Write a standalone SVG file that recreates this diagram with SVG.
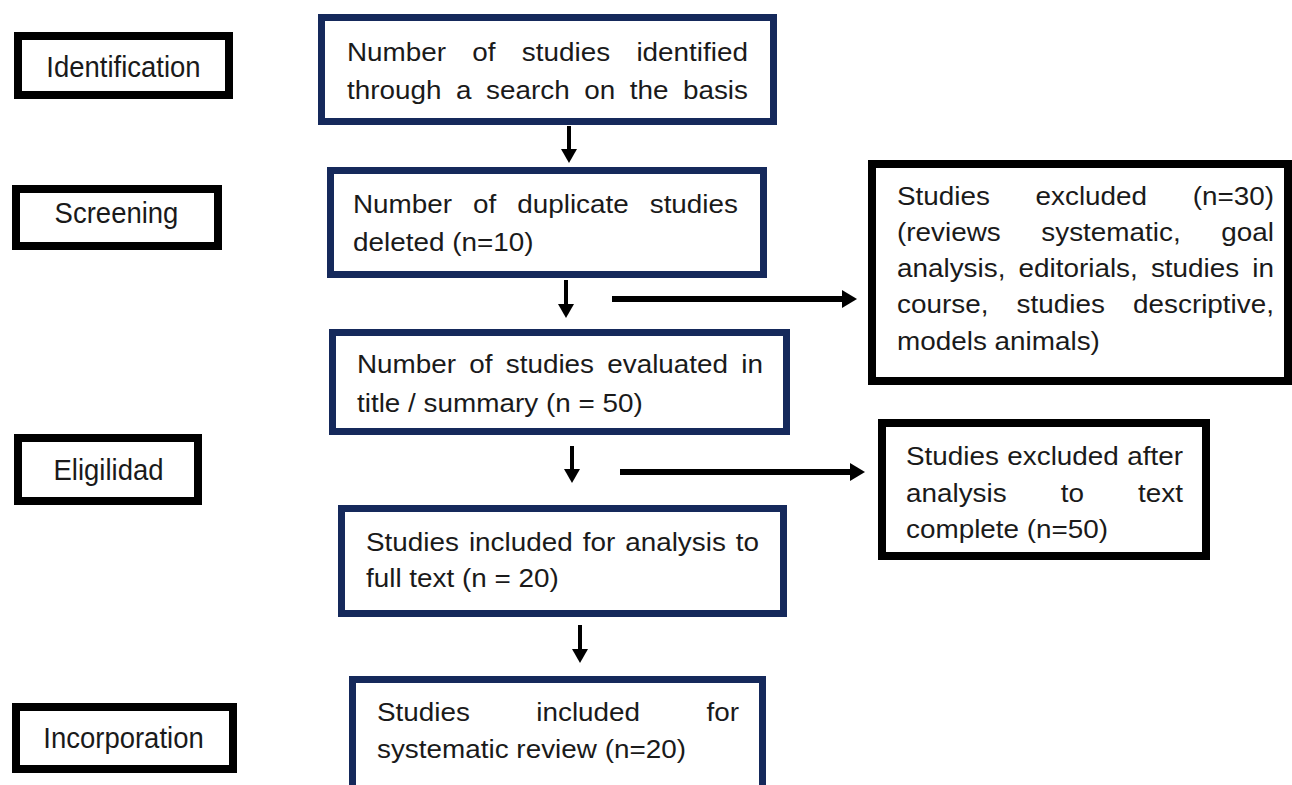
<svg xmlns="http://www.w3.org/2000/svg" width="1292" height="785" viewBox="0 0 1292 785">
<style>
  .bg { fill: #ffffff; }
  .lbl rect { fill: #ffffff; stroke: #000000; stroke-width: 8; }
  .main rect { fill: #ffffff; stroke: #15295b; stroke-width: 7; }
  .excl rect { fill: #ffffff; stroke: #000000; stroke-width: 8; }
  text { font-family: "Liberation Sans", Arial, sans-serif; fill: #1a1a1a; }
  .t { font-size: 25px; }
  .lt { font-size: 29px; text-anchor: middle; }
  .conn line { stroke: #000000; fill: none; }
  .v { stroke-width: 4; }
  .h { stroke-width: 6; }
</style>
<defs>
  <marker id="ahv" markerUnits="userSpaceOnUse" markerWidth="14" markerHeight="16" refX="0" refY="8" orient="auto">
    <path d="M0,0 L14,8 L0,16 Z" fill="#000000"/>
  </marker>
  <marker id="ahh" markerUnits="userSpaceOnUse" markerWidth="15" markerHeight="18" refX="0" refY="9" orient="auto">
    <path d="M0,0 L15,9 L0,18 Z" fill="#000000"/>
  </marker>
</defs>
<rect class="bg" x="0" y="0" width="1292" height="785"/>

<g id="label-identification" class="lbl">
  <rect x="18" y="36" width="211" height="59"/>
  <text class="lt" transform="translate(123.5,77) scale(0.948,1)" x="0" y="0">Identification</text>
</g>
<g id="label-screening" class="lbl">
  <rect x="16" y="189" width="202" height="57"/>
  <text class="lt" transform="translate(116.5,223) scale(0.948,1)" x="0" y="0">Screening</text>
</g>
<g id="label-eligilidad" class="lbl">
  <rect x="18" y="438" width="180" height="63"/>
  <text class="lt" transform="translate(108.5,480) scale(0.948,1)" x="0" y="0">Eligilidad</text>
</g>
<g id="label-incorporation" class="lbl">
  <rect x="16" y="707" width="217" height="62"/>
  <text class="lt" transform="translate(123.5,748) scale(0.948,1)" x="0" y="0">Incorporation</text>
</g>

<g id="box-identified" class="main">
  <rect x="321.5" y="17.5" width="452" height="104"/>
  <text class="t" transform="translate(347,61) scale(1.115,1)"><tspan x="0">Number</tspan><tspan x="112.43">of</tspan><tspan x="156.81">studies</tspan><tspan x="259.54">identified</tspan></text>
  <text class="t" transform="translate(347,99) scale(1.115,1)"><tspan x="0">through</tspan><tspan x="97.78">a</tspan><tspan x="124.68">search</tspan><tspan x="212.71">on</tspan><tspan x="253.51">the</tspan><tspan x="301.26">basis</tspan></text>
</g>

<g id="box-duplicates" class="main">
  <rect x="330.5" y="170.5" width="433" height="104"/>
  <text class="t" transform="translate(353,213) scale(1.115,1)"><tspan x="0">Number</tspan><tspan x="107.67">of</tspan><tspan x="147.29">duplicate</tspan><tspan x="266.11">studies</tspan></text>
  <text class="t" transform="translate(353,251) scale(1.115,1)" x="0" y="0">deleted (n=10)</text>
</g>

<g id="box-evaluated" class="main">
  <rect x="332.5" y="332.5" width="454" height="99"/>
  <text class="t" transform="translate(357,373) scale(1.115,1)"><tspan x="0">Number</tspan><tspan x="100.73">of</tspan><tspan x="133.41">studies</tspan><tspan x="224.44">evaluated</tspan><tspan x="344.67">in</tspan></text>
  <text class="t" transform="translate(357,412) scale(1.115,1)" x="0" y="0">title / summary (n = 50)</text>
</g>

<g id="box-fulltext" class="main">
  <rect x="341.5" y="508.5" width="442" height="105"/>
  <text class="t" transform="translate(366,551) scale(1.115,1)"><tspan x="0">Studies</tspan><tspan x="92.31">included</tspan><tspan x="194.34">for</tspan><tspan x="232.45">analysis</tspan><tspan x="331.68">to</tspan></text>
  <text class="t" transform="translate(366,587) scale(1.115,1)" x="0" y="0">full text (n = 20)</text>
</g>

<g id="box-included" class="main">
  <rect x="352.5" y="679.5" width="410" height="120"/>
  <text class="t" transform="translate(377,721) scale(1.115,1)"><tspan x="0">Studies</tspan><tspan x="142.88">included</tspan><tspan x="295.48">for</tspan></text>
  <text class="t" transform="translate(377,758) scale(1.115,1)" x="0" y="0">systematic review (n=20)</text>
</g>

<g id="box-excluded-30" class="excl">
  <rect x="872" y="164" width="416" height="217"/>
  <text class="t" transform="translate(897,205) scale(1.115,1)"><tspan x="0">Studies</tspan><tspan x="124.24">excluded</tspan><tspan x="265.15">(n=30)</tspan></text>
  <text class="t" transform="translate(897,241) scale(1.115,1)"><tspan x="0">(reviews</tspan><tspan x="129.44">systematic,</tspan><tspan x="290.86">goal</tspan></text>
  <text class="t" transform="translate(897,277) scale(1.115,1)"><tspan x="0">analysis,</tspan><tspan x="108.99">editorials,</tspan><tspan x="227.71">studies</tspan><tspan x="318.65">in</tspan></text>
  <text class="t" transform="translate(897,313) scale(1.115,1)"><tspan x="0">course,</tspan><tspan x="107.23">studies</tspan><tspan x="211.68">descriptive,</tspan></text>
  <text class="t" transform="translate(897,350) scale(1.115,1)" x="0" y="0">models animals)</text>
</g>

<g id="box-excluded-50" class="excl">
  <rect x="882" y="423" width="324" height="133"/>
  <text class="t" transform="translate(906,465) scale(1.115,1)"><tspan x="0">Studies</tspan><tspan x="90.85">excluded</tspan><tspan x="198.37">after</tspan></text>
  <text class="t" transform="translate(906,502) scale(1.115,1)"><tspan x="0">analysis</tspan><tspan x="138.78">to</tspan><tspan x="208.11">text</tspan></text>
  <text class="t" transform="translate(906,538) scale(1.115,1)" x="0" y="0">complete (n=50)</text>
</g>

<g id="connectors" class="conn">
  <line class="v" x1="569" y1="126" x2="569" y2="149" marker-end="url(#ahv)"/>
  <line class="v" x1="566" y1="280" x2="566" y2="304" marker-end="url(#ahv)"/>
  <line class="h" x1="612" y1="299" x2="842" y2="299" marker-end="url(#ahh)"/>
  <line class="v" x1="572" y1="446" x2="572" y2="469" marker-end="url(#ahv)"/>
  <line class="h" x1="620" y1="472" x2="850" y2="472" marker-end="url(#ahh)"/>
  <line class="v" x1="580" y1="625" x2="580" y2="649" marker-end="url(#ahv)"/>
</g>
</svg>
